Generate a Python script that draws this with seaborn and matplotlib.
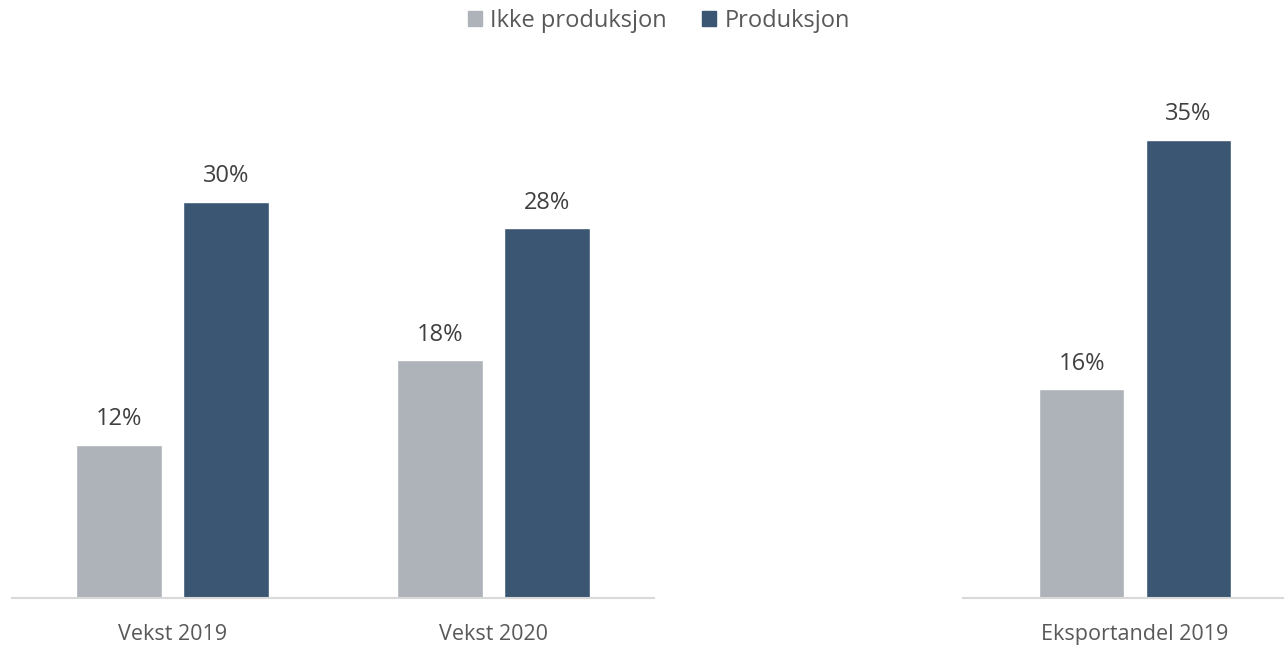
import pandas as pd
import matplotlib.pyplot as plt
import seaborn as sns

# data (percent)
series = ["Ikke produksjon", "Produksjon"]
left_cats = ["Vekst 2019", "Vekst 2020"]
left_ikke = [11.6, 18.0]
left_prod = [30.0, 28.0]
right_cats = ["Eksportandel 2019"]
right_ikke = [15.8]
right_prod = [34.7]

colors = {"Ikke produksjon": "#ADB3B9", "Produksjon": "#3A5672"}

sns.set_theme(style="white")
plt.rcParams["font.family"] = ["Open Sans", "DejaVu Sans"]


def long_df(cats, ikke, prod):
    return pd.DataFrame({
        "kategori": cats * 2,
        "serie": [series[0]] * len(cats) + [series[1]] * len(cats),
        "verdi": ikke + prod,
    })


fig = plt.figure(figsize=(12.84, 6.46), dpi=100)
W, H = 1284, 646
bottom = (H - 598) / H
height = 528 / H
ax1 = fig.add_axes([12 / W, bottom, 642 / W, height])
ax2 = fig.add_axes([963 / W, bottom, 321 / W, height])

for ax, df, xlim in [
    (ax1, long_df(left_cats, left_ikke, left_prod), (-0.5, 1.5)),
    (ax2, long_df(right_cats, right_ikke, right_prod), (-0.536, 0.464)),
]:
    sns.barplot(data=df, x="kategori", y="verdi", hue="serie",
                palette=colors, width=0.666, gap=0.2, ax=ax,
                legend=False, saturation=1)
    for cont in ax.containers:
        ax.bar_label(cont, labels=[f"{v:.0f}%" for v in cont.datavalues],
                     padding=10, fontsize=17, color="#404040")
    ax.set_ylim(0, 40)
    ax.set_xlim(*xlim)
    ax.set_xlabel("")
    ax.set_ylabel("")
    ax.set_yticks([])
    for s in ["top", "right", "left"]:
        ax.spines[s].set_visible(False)
    ax.spines["bottom"].set_color("#D9D9D9")
    ax.spines["bottom"].set_linewidth(1.5)
    ax.tick_params(axis="x", length=0, pad=19, labelsize=15.5, labelcolor="#595959")

handles = [plt.Rectangle((0, 0), 1, 1, color=colors[s]) for s in series]
fig.legend(handles, series, loc="center", bbox_to_anchor=(0.513, 1 - 21 / H),
           ncol=2, frameon=False, fontsize=17, labelcolor="#595959",
           handlelength=0.6, handleheight=0.6, handletextpad=0.35,
           columnspacing=1.5)

fig.savefig("out.png", dpi=100)
